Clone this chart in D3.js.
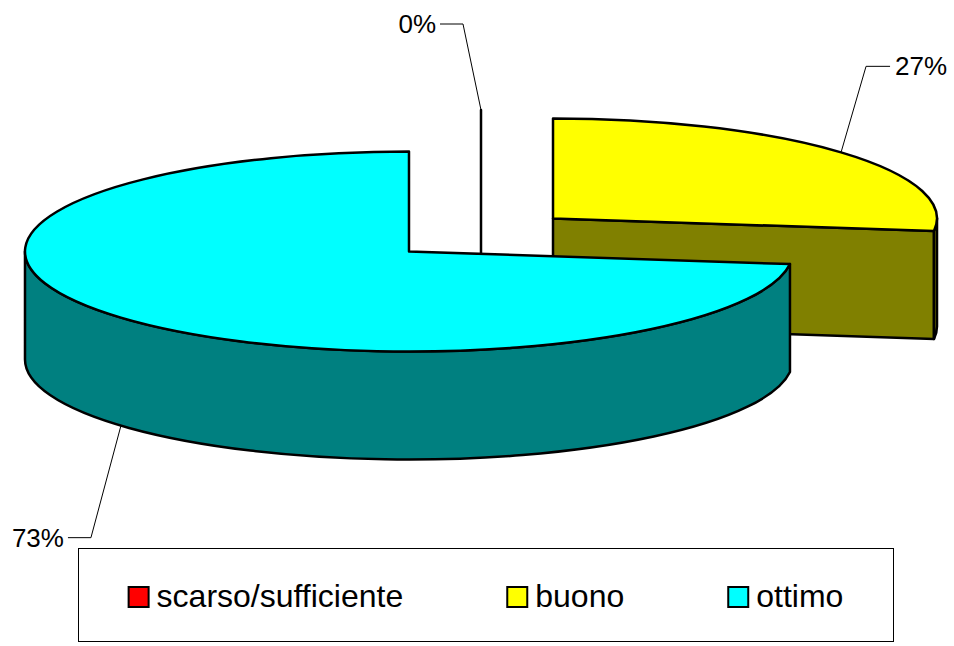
<!DOCTYPE html>
<html>
<head>
<meta charset="utf-8">
<script src="https://cdn.jsdelivr.net/npm/d3@7"></script>
<style>
  body { margin: 0; background: #fff; }
  svg { display: block; font-family: Arial, "Liberation Sans", sans-serif; }
</style>
</head>
<body>
<script>
// data
var categories = ["scarso/sufficiente", "buono", "ottimo"];
var values = [0, 27, 73];
var topColors = ["#FF0000", "#FFFF00", "#00FFFF"];
var sideColors = ["#800000", "#808000", "#008080"];

var width = 954, height = 646;
var cx = 481, cy = 235, rx = 384, ry = 100, depth = 108, explode = 0.25;

// leader line elbow offsets from the anchor on the rim
var labelOffsets = [[-18, -86], [25, -86], [-30, 112]];

var svg = d3.select("body").append("svg")
    .attr("width", width)
    .attr("height", height);

var xs = d3.scaleLinear().domain([-1, 1]).range([-rx, rx]);
var ys = d3.scaleLinear().domain([-1, 1]).range([-ry, ry]);

var total = d3.sum(values);
var fmt = d3.format(".0%");

var pie = d3.pie().sort(null).value(function(d) { return d; });
var arcs = pie(values);

arcs.forEach(function(d) {
    d.mid = (d.startAngle + d.endAngle) / 2;
    d.px = cx + explode * xs(Math.sin(d.mid));
    d.py = cy + explode * ys(-Math.cos(d.mid));
});

function rim(d, a, dz) {
    return [d.px + xs(Math.sin(a)), d.py + ys(-Math.cos(a)) + (dz || 0)];
}
function pt(p) { return p[0] + "," + p[1]; }

function topPath(d) {
    var a0 = d.startAngle, a1 = d.endAngle;
    var large = (a1 - a0) > Math.PI ? 1 : 0;
    return "M" + d.px + "," + d.py + "L" + pt(rim(d, a0)) +
        "A" + rx + "," + ry + " 0 " + large + " 1 " + pt(rim(d, a1)) + "Z";
}

function wallPath(d, b0, b1) {
    var large = (b1 - b0) > Math.PI ? 1 : 0;
    return "M" + pt(rim(d, b0)) +
        "A" + rx + "," + ry + " 0 " + large + " 1 " + pt(rim(d, b1)) +
        "L" + pt(rim(d, b1, depth)) +
        "A" + rx + "," + ry + " 0 " + large + " 0 " + pt(rim(d, b0, depth)) + "Z";
}

function facePath(d, a) {
    return "M" + d.px + "," + d.py + "L" + pt(rim(d, a)) +
        "L" + pt(rim(d, a, depth)) + "L" + d.px + "," + (d.py + depth) + "Z";
}

// back slices first
var order = arcs.slice().sort(function(a, b) { return Math.cos(b.mid) - Math.cos(a.mid); });

var pieG = svg.append("g")
    .attr("stroke", "#000")
    .attr("stroke-width", 2.5)
    .attr("stroke-linejoin", "round");

order.forEach(function(d) {
    var g = pieG.append("g");
    var i = d.index;

    if (d.endAngle - d.startAngle < 1e-6) {
        g.append("path").attr("d", facePath(d, d.startAngle)).attr("fill", sideColors[i]);
        return;
    }
    if (Math.sin(d.endAngle) > 1e-6) {
        g.append("path").attr("d", facePath(d, d.endAngle)).attr("fill", sideColors[i]);
    }
    if (Math.sin(d.startAngle) < -1e-6) {
        g.append("path").attr("d", facePath(d, d.startAngle)).attr("fill", sideColors[i]);
    }
    var b0 = Math.max(d.startAngle, Math.PI / 2);
    var b1 = Math.min(d.endAngle, 3 * Math.PI / 2);
    if (b1 > b0) {
        g.append("path").attr("d", wallPath(d, b0, b1)).attr("fill", sideColors[i]);
    }
    g.append("path").attr("d", topPath(d)).attr("fill", topColors[i]);
});

// percentage labels with leader lines
var labelG = svg.append("g");
arcs.forEach(function(d, i) {
    var front = Math.cos(d.mid) < 0;
    var anchor = rim(d, d.mid, front ? depth : 0);
    var elbow = [anchor[0] + labelOffsets[i][0], anchor[1] + labelOffsets[i][1]];
    var left = labelOffsets[i][0] < 0;
    var end = [elbow[0] + (left ? -23 : 24), elbow[1]];

    labelG.append("path")
        .attr("d", "M" + pt(anchor) + "L" + pt(elbow) + "L" + pt(end))
        .attr("fill", "none")
        .attr("stroke", "#000")
        .attr("stroke-width", 1);

    labelG.append("text")
        .attr("x", end[0] + (left ? -4 : 5))
        .attr("y", elbow[1] + 9)
        .attr("text-anchor", left ? "end" : "start")
        .attr("font-size", 26)
        .text(fmt(d.data / total));
});

// legend
var legX = 78.5, legY = 548.5, legW = 815, legH = 93;
var legend = svg.append("g");
legend.append("rect")
    .attr("x", legX).attr("y", legY)
    .attr("width", legW).attr("height", legH)
    .attr("fill", "#fff")
    .attr("stroke", "#000")
    .attr("stroke-width", 1);

var items = legend.selectAll("g.item")
    .data(categories)
    .enter()
    .append("g")
    .attr("class", "item");

items.append("rect")
    .attr("x", 0).attr("y", -20)
    .attr("width", 20).attr("height", 20)
    .attr("fill", function(d, i) { return topColors[i]; })
    .attr("stroke", "#000")
    .attr("stroke-width", 2);

items.append("text")
    .attr("x", 28)
    .attr("y", 0)
    .attr("font-size", 32)
    .text(function(d) { return d; });

var widths = [];
items.each(function() {
    widths.push(28 + d3.select(this).select("text").node().getComputedTextLength());
});
var gap = 104;
var sumW = d3.sum(widths) + gap * (widths.length - 1);
var startX = legX + legW / 2 - sumW / 2;
var xPos = startX;
items.attr("transform", function(d, i) {
    var t = "translate(" + xPos + "," + 607 + ")";
    xPos += widths[i] + gap;
    return t;
});
</script>
</body>
</html>
